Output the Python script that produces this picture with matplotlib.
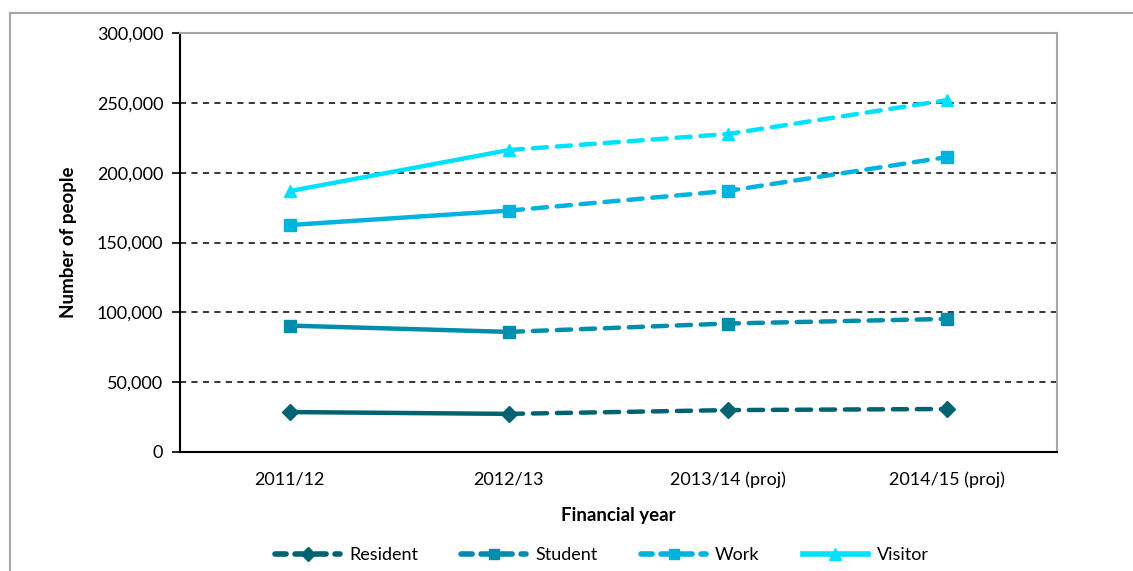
import matplotlib
matplotlib.use("Agg")
import matplotlib.pyplot as plt
from matplotlib.lines import Line2D
from matplotlib.patches import Rectangle
from matplotlib.ticker import FuncFormatter

years = ["2011/12", "2012/13", "2013/14 (proj)", "2014/15 (proj)"]
resident = [28600, 27300, 30000, 30800]
student = [90500, 86000, 92000, 95300]
work = [162500, 172800, 187000, 211200]
visitor = [186800, 216200, 227700, 252000]

names = ["Resident", "Student", "Work", "Visitor"]
colors = ["#006372", "#008DAB", "#00B2DE", "#00E0FF"]
markers = ["D", "s", "s", "^"]
msizes = [8, 8, 8, 9]

plt.rcParams.update({"font.family": ["Lato", "DejaVu Sans"], "font.size": 13})

fig = plt.figure(figsize=(11.33, 5.71), dpi=100)
fig.patches.append(Rectangle((10 / 1133, -0.1), 1.2, 1 - 13 / 571 + 0.1, transform=fig.transFigure,
                             fill=False, edgecolor="#a6a6a6", lw=1.5, zorder=0))
ax = fig.add_axes([180 / 1133, 1 - 452 / 571, 877 / 1133, 419 / 571])

x = list(range(len(years)))
for vals, c, m, ms in zip([resident, student, work, visitor], colors, markers, msizes):
    ax.plot(x[:2], vals[:2], "-", color=c, lw=3.2, solid_capstyle="round", zorder=3)
    ax.plot(x[1:], vals[1:], color=c, lw=3.2, dashes=(3.2, 2.2), dash_capstyle="round", zorder=3)
    ax.plot(x, vals, ls="none", marker=m, ms=ms, color=c, zorder=4)

ax.set_xlim(-0.5, 3.5)
ax.set_ylim(0, 300000)
ax.set_yticks(range(0, 300001, 50000))
ax.yaxis.set_major_formatter(FuncFormatter(lambda v, p: f"{v:,.0f}"))
ax.set_xticks(x)
ax.set_xticklabels(years)
ax.tick_params(axis="x", length=0, pad=14)
ax.tick_params(axis="y", length=6, width=1.2, direction="out", pad=6)
ax.grid(axis="y", color="black", ls=(0, (4, 3.5)), lw=1.1)
ax.set_axisbelow(True)
for s in ["left", "bottom"]:
    ax.spines[s].set_color("black"); ax.spines[s].set_linewidth(1.5)
for s in ["top", "right"]:
    ax.spines[s].set_color("#a6a6a6"); ax.spines[s].set_linewidth(1.5)

ax.set_ylabel("Number of people", fontweight="bold", fontsize=13.5, labelpad=14)
ax.set_xlabel("Financial year", fontweight="bold", fontsize=13.5, labelpad=14)

handles = []
for i, (n, c, m, ms) in enumerate(zip(names, colors, markers, msizes)):
    handles.append(Line2D([], [], color=c, lw=4, marker=m, ms=ms - 1,
                          ls="-" if n == "Visitor" else (0, (2.0, 1.6)), dash_capstyle="round"))
fig.legend(handles, names, loc="center", bbox_to_anchor=(602 / 1133, 1 - 555 / 571), ncol=4,
           frameon=False, handlelength=3.6, columnspacing=2.4, handletextpad=0.5, fontsize=13)

fig.savefig("out.png", dpi=100)
